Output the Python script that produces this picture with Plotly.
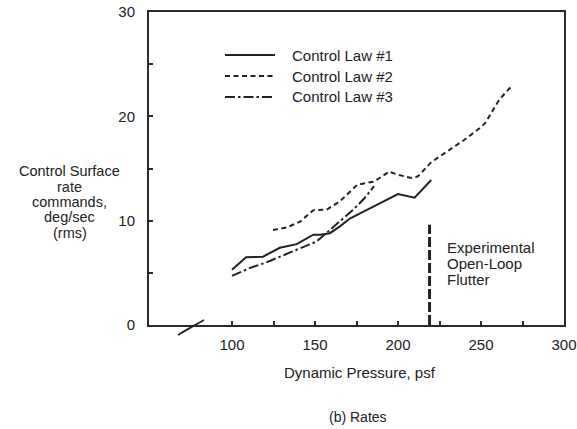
import plotly.graph_objects as go

# ---- data ----
law1_q = [100, 108.5, 118.7, 128.8, 139, 149, 153, 159, 165, 171, 181, 191.7, 200, 210, 220]
law1_r = [5.3, 6.5, 6.55, 7.4, 7.75, 8.65, 8.65, 8.8, 9.45, 10.2, 11.0, 11.85, 12.55, 12.2, 13.9]

law2_q = [124.7, 133, 141, 149, 157, 165, 175.5, 185.6, 194.7, 200, 208, 212, 220, 230, 240, 249.5, 252.5, 261, 269]
law2_r = [9.1, 9.35, 9.9, 11.0, 11.05, 11.85, 13.45, 13.75, 14.7, 14.4, 14.1, 14.25, 15.6, 16.65, 17.75, 18.9, 19.35, 21.6, 23.0]

law3_q = [100, 110.5, 120.7, 130.8, 141, 151, 159, 165, 173, 179.5, 185.6]
law3_r = [4.7, 5.45, 6.0, 6.7, 7.35, 8.0, 9.1, 9.9, 11.05, 12.1, 13.3]

flutter_q = [219, 219]
flutter_r = [0, 9.6]

x_ticks = [100, 150, 200, 250, 300]
x_minor = [125, 175, 225, 275]
y_ticks = [0, 10, 20, 30]
y_minor = [5, 15, 25]

legend_names = ["Control Law #1", "Control Law #2", "Control Law #3"]
ylabel_lines = ["Control Surface", "rate", "commands,", "deg/sec", "(rms)"]
flutter_lines = ["Experimental", "Open-Loop", "Flutter"]

INK = "#222222"
FRAME = "#2a2a2a"
FONT = "Liberation Sans, Arial, sans-serif"
FS = 15

fig = go.Figure()
dashes = ["solid", "5px,3.5px", "10px,3px,2.5px,3px"]
for (q, r), d, n in zip([(law1_q, law1_r), (law2_q, law2_r), (law3_q, law3_r)], dashes, legend_names):
    fig.add_trace(go.Scatter(x=q, y=r, mode="lines", name=n, showlegend=False,
                             line=dict(color=INK, width=2, dash=d)))

fig.add_trace(go.Scatter(x=flutter_q, y=flutter_r, mode="lines", showlegend=False,
                         line=dict(color=INK, width=3, dash="10px,3px")))

# plot area in px: left 149, right 564, top 12, bottom 325
L, R, T, B = 149, 564, 12, 325
W, H = 577, 429
def px(xp):
    return (xp - L) / (R - L)
def py(yp):
    return (B - yp) / (B - T)

shapes = []
annotations = []
# manual legend
for i, (n, d) in enumerate(zip(legend_names, dashes)):
    yy = py(55 + 21 * i)
    shapes.append(dict(type="line", xref="paper", yref="paper", x0=px(225), x1=px(275), y0=yy, y1=yy,
                       line=dict(color=INK, width=2, dash=d)))
    annotations.append(dict(xref="paper", yref="paper", x=px(290), y=yy, text=n, showarrow=False,
                            xanchor="left", yanchor="middle", font=dict(size=FS, color=INK, family=FONT)))

# axis break mark
shapes.append(dict(type="path", xref="paper", yref="paper",
                   path=f"M {px(178)} {py(335)} L {px(204)} {py(320)} L {px(186)} {py(330)} Z",
                   fillcolor=INK, line=dict(color=INK, width=1.5)))

# y label lines
for i, t in enumerate(ylabel_lines):
    annotations.append(dict(xref="paper", yref="paper", x=px(69.5), y=py(171 + 15.5 * i), text=t,
                            showarrow=False, xanchor="center", yanchor="middle",
                            font=dict(size=14.5, color=INK, family=FONT)))
# flutter text
for i, t in enumerate(flutter_lines):
    annotations.append(dict(xref="paper", yref="paper", x=px(445), y=py(247 + 16 * i), text=t,
                            showarrow=False, xanchor="left", yanchor="middle",
                            font=dict(size=FS, color=INK, family=FONT)))
# x title and caption
annotations.append(dict(xref="paper", yref="paper", x=px(360), y=py(372), text="Dynamic Pressure, psf",
                        showarrow=False, xanchor="center", yanchor="middle",
                        font=dict(size=FS, color=INK, family=FONT)))
annotations.append(dict(xref="paper", yref="paper", x=px(358), y=py(417), text="(b) Rates",
                        showarrow=False, xanchor="center", yanchor="middle",
                        font=dict(size=FS - 1, color=INK, family=FONT)))

axis_common = dict(showline=True, linecolor=FRAME, linewidth=2, mirror=True, automargin=False,
                   showgrid=False, zeroline=False, ticks="inside", ticklen=4, tickwidth=1.5,
                   tickcolor=FRAME, tickfont=dict(size=FS, color=INK, family=FONT))

fig.update_layout(
    template="none",
    width=W, height=H,
    margin=dict(l=L, r=W - R, t=T, b=H - B, autoexpand=False),
    paper_bgcolor="white", plot_bgcolor="white",
    xaxis=dict(range=[50, 300], tickmode="array", tickvals=x_ticks, ticktext=[str(v) for v in x_ticks],
               minor=dict(tickvals=x_minor, ticks="inside", ticklen=4, tickcolor=FRAME),
               ticklabelstandoff=5, **axis_common),
    yaxis=dict(range=[0, 30], tickmode="array", tickvals=y_ticks, ticktext=[str(v) for v in y_ticks],
               minor=dict(tickvals=y_minor, ticks="inside", ticklen=4, tickcolor=FRAME),
               ticklabelstandoff=9, **axis_common),
    shapes=shapes, annotations=annotations,
    font=dict(family=FONT, color=INK),
)

fig.write_html("out.html")
